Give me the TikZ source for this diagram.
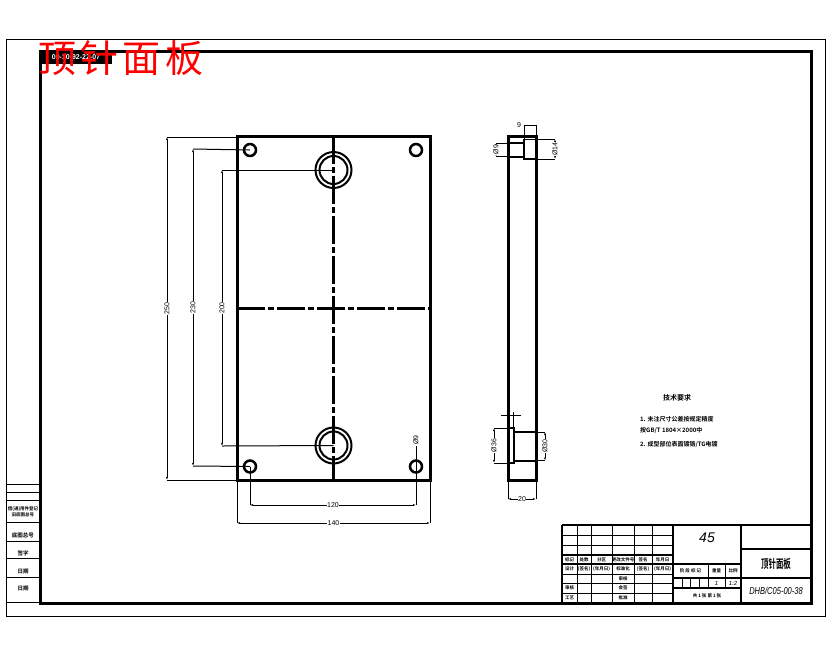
\documentclass[tikz,border=0pt]{standalone}
\usepackage{fontspec}
\setmainfont{Liberation Sans}
\newfontfamily\cjk{Noto Sans CJK SC}
\newfontfamily\cjkb{Noto Sans CJK SC Bold}
\usetikzlibrary{arrows.meta}
\tikzset{
  x=1pt,y=-1pt,
  thickline/.style={line width=3pt,line cap=butt},
  midline/.style={line width=2pt},
  thinline/.style={line width=1pt},
  dimline/.style={line width=1pt,{Latex[length=3pt,width=2pt]}-{Latex[length=3pt,width=2pt]}},
  center line/.style={line width=3pt,dash pattern=on 28pt off 3pt on 6pt off 3pt},
  dimtext/.style={font=\fontsize{7}{7}\selectfont,inner sep=0.5pt,fill=white},
  tb/.style={font=\cjkb\fontsize{4.5}{5}\selectfont,inner sep=0pt},
  stamp/.style={font=\cjkb\fontsize{5.5}{6}\selectfont,inner sep=0pt,align=center},
  note/.style={font=\cjkb\fontsize{6}{7}\selectfont,inner sep=0pt,anchor=west},
  hole/.style={draw,line width=2.5pt,circle,minimum size=12pt,inner sep=0pt},
}
\begin{document}
\begin{tikzpicture}
\useasboundingbox (0,0) rectangle (830,654);
\fill[white] (0,0) rectangle (830,654);
% frames
\coordinate (oa) at (6,39); \coordinate (ob) at (825,616);
\coordinate (ia) at (40,51); \coordinate (ib) at (811,603);
\draw[thinline] (oa) rectangle (ob);
\draw[thickline] (ia) rectangle (ib);
% code box
\node[draw,line width=2pt,fill=black,text=white,minimum width=70pt,minimum height=11pt,inner sep=0pt,anchor=north west,font=\bfseries\fontsize{7}{7}\selectfont] (code) at (40,51) {00-10-92-22-07};
% plate
\coordinate (pa) at (237,136); \coordinate (pb) at (430,480);
\draw[thickline] (pa) rectangle (pb);
\coordinate (ct) at (333.5,136); \coordinate (cb) at (333.5,480);
\coordinate (cl) at (237,308); \coordinate (cr) at (430,308);
\draw[center line] (ct) -- (cb);
\draw[center line] (cl) -- (cr);
\node[hole] (h1) at (250,150) {};
\node[hole] (h2) at (416,150) {};
\node[hole] (h3) at (250,466.5) {};
\node[hole] (h4) at (416,466.5) {};
\coordinate (b1) at (333.5,170); \coordinate (b2) at (333.5,445.5);
\draw[midline] (b1) circle (18);
\draw[midline] (b1) circle (14);
\draw[midline] (b2) circle (18);
\draw[midline] (b2) circle (14);
% left dims
\draw[thinline] (167,137) -- (237,137);
\draw[thinline] (167,480) -- (237,480);
\draw[thinline] (193,149) -- (h1.center);
\draw[thinline] (193,466) -- (h3.center);
\draw[thinline] (222,170) -- (b1);
\draw[thinline] (222,446) -- (b2);
\draw[dimline] (167,137) -- node[dimtext,rotate=90] {250} (167,480);
\draw[dimline] (193,149) -- node[dimtext,rotate=90] {230} (193,466);
\draw[dimline] (222,170) -- node[dimtext,rotate=90] {200} (222,446);
% bottom dims
\draw[thinline] (250,467) -- (250,505);
\draw[thinline] (416,467) -- (416,505);
\draw[thinline] (237,480) -- (237,523);
\draw[thinline] (430,480) -- (430,523);
\draw[dimline] (250,505) -- node[dimtext] {120} (416,505);
\draw[dimline] (237,523) -- node[dimtext] {140} (430,523);
\draw[thinline] (416,467) -- (416,446);
\node[dimtext,rotate=90] (ph) at (416,440) {Ø9};
% side view
\coordinate (sa) at (508,136); \coordinate (sb) at (536,480);
\draw[thickline] (sa) rectangle (sb);
\draw[midline] (508,143) -- (524,143);
\draw[midline] (508,156.5) -- (524,156.5);
\draw[midline] (524,139) -- (524,159) -- (536,159);
\draw[midline] (508,428) rectangle (513.5,463);
\draw[midline] (513.5,432) -- (536,432);
\draw[midline] (513.5,460.5) -- (536,460.5);
% side dims
\draw[thinline] (524,139) -- (524,125);
\draw[thinline] (536,136) -- (536,125);
\draw[thinline] (524,125) -- (536,125);
\node[dimtext] (s9) at (519,125) {9};
\draw[thinline] (496,143) -- (508,143);
\draw[thinline] (496,156.5) -- (508,156.5);
\draw[dimline] (496,143) -- node[dimtext,rotate=90] {Ø9} (496,156.5);
\draw[thinline] (524,139) -- (555,139);
\draw[thinline] (536,159) -- (555,159);
\draw[dimline] (555,139) -- node[dimtext,rotate=90] {Ø14} (555,159);
\draw[thinline] (494,428) -- (508,428);
\draw[thinline] (494,463) -- (508,463);
\draw[dimline] (494,428) -- node[dimtext,rotate=90] {Ø36} (494,463);
\draw[thinline] (536,432) -- (545,432);
\draw[thinline] (536,460.5) -- (545,460.5);
\draw[dimline] (545,432) -- node[dimtext,rotate=90] {Ø30} (545,460.5);
\draw[thinline] (508,480) -- (508,499);
\draw[thinline] (536,480) -- (536,499);
\draw[dimline] (508,499) -- node[dimtext] {20} (536,499);
\draw[thinline] (501,415) -- (521,415);
\draw[thinline] (508,412) -- (508,428);
\draw[thinline] (513.5,412) -- (513.5,428);
% notes
\node[font=\cjkb\fontsize{7}{7}\selectfont,inner sep=0pt] (n0) at (677,398) {技术要求};
\node[note] (n1) at (640,419) {1. 未注尺寸公差按规定精度};
\node[note] (n2) at (640,430) {按GB/T 1804×2000中};
\node[note] (n3) at (640,444) {2. 成型部位表面镀铬/TG电镀};
% title block
\draw[midline] (562,525) -- (811,525);
\draw[midline] (562,525) -- (562,603);
\draw[midline] (673,525) -- (673,603);
\draw[midline] (741,525) -- (741,603);
\foreach \yy in {535,545,574,583,593} \draw[thinline] (562,\yy) -- (673,\yy);
\draw[midline] (562,555) -- (673,555);
\draw[midline] (562,564) -- (673,564);
\foreach \xx in {577,591,612,634,652} \draw[thinline] (\xx,525) -- (\xx,603);
\draw[midline] (673,564) -- (741,564);
\draw[midline] (673,578) -- (741,578);
\draw[midline] (673,588) -- (741,588);
\foreach \xx in {682,690,699} \draw[thinline] (\xx,578) -- (\xx,588);
\foreach \xx in {708,725} \draw[thinline] (\xx,564) -- (\xx,588);
\draw[midline] (741,549) -- (811,549);
\draw[midline] (741,578) -- (811,578);
\node[font=\fontsize{14}{14}\selectfont\itshape,inner sep=0pt] (m) at (707,538) {45};
\node[font=\cjkb\fontsize{12}{12}\selectfont,inner sep=0pt] (t1) at (776,564) {\scalebox{.62}[1]{顶针面板}};
\node[font=\itshape\fontsize{10}{10}\selectfont,inner sep=0pt] (t2) at (776,591) {\scalebox{.75}[1]{DHB/C05-00-38}};
\foreach \xx/\tt in {569.5/标记,584/处数,601.5/分区,623/更改文件号,643/签名,662.5/年月日}
  \node[tb] at (\xx,560) {\tt};
\foreach \xx/\tt in {569.5/设计,584/(签名),601.5/(年月日),623/标准化,643/(签名),662.5/(年月日)}
  \node[tb] at (\xx,569) {\tt};
\node[tb] at (623,578.5) {审核};
\node[tb] at (569.5,588) {审核};
\node[tb] at (623,588) {会签};
\node[tb] at (569.5,598) {工艺};
\node[tb] at (623,598) {批准};
\node[tb] at (690.5,571) {阶 段 标 记};
\node[tb] at (716.5,571) {重量};
\node[tb] at (733,571) {比例};
\node[font=\fontsize{6}{6}\selectfont\itshape,inner sep=0pt] at (716.5,583) {1};
\node[font=\fontsize{6}{6}\selectfont\itshape,inner sep=0pt] at (733,583) {1:2};
\node[tb] at (707,596) {共 1 张 第 1 张};
% left stamp
\foreach \yy in {484,492,500,522,541,558,577,602} \draw[thinline] (6,\yy) -- (40,\yy);
\node[stamp,font=\cjkb\fontsize{4.5}{5.5}\selectfont] at (23,512) {借(通)用件登记\\旧底图总号};
\node[stamp] at (23,535) {底图总号};
\node[stamp] at (23,553) {签字};
\node[stamp] at (23,571) {日期};
\node[stamp] at (23,588) {日期};
% red title
\node[text=red,font=\cjk\fontsize{38}{38}\selectfont,inner sep=0pt,anchor=west] (title) at (38,58) {顶\hspace{4.3pt}针\hspace{4.3pt}面\hspace{4.3pt}板};
\end{tikzpicture}
\end{document}
